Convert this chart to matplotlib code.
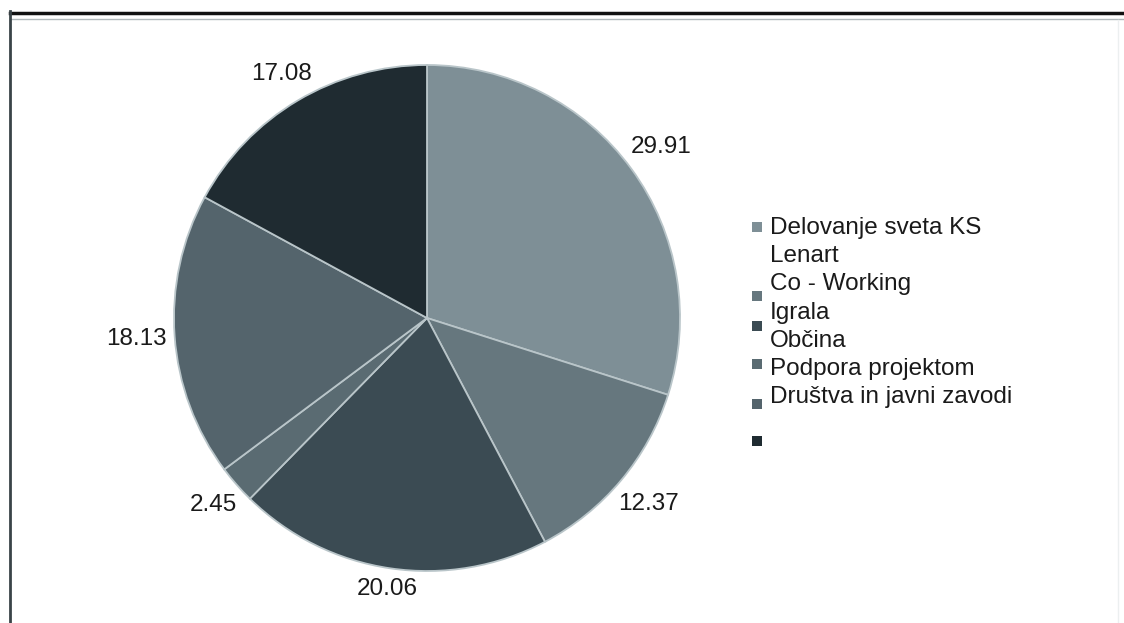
import math
import matplotlib
matplotlib.use('Agg')
import matplotlib.pyplot as plt
from matplotlib.lines import Line2D
from matplotlib.patches import Rectangle

# slice values, clockwise from 12 o'clock
values = [29.91, 12.37, 20.06, 2.45, 18.13, 17.08]
value_labels = ['29.91', '12.37', '20.06', '2.45', '18.13', '17.08']
colors = ['#7e8f96', '#66777e', '#3b4b53', '#5a6b72', '#54646c', '#1f2b31']

# legend text lines (scan has the text and squares out of step)
legend_lines = ['Delovanje sveta KS', 'Lenart', 'Co - Working', 'Igrala',
                'Občina', 'Podpora projektom', 'Društva in javni zavodi']
# square positions in figure pixels from top
legend_marker_y = [227, 296, 326, 364, 404, 441]

plt.rcParams['font.family'] = ['Liberation Sans', 'DejaVu Sans']

W, H = 1124, 623
fig = plt.figure(figsize=(W / 100, H / 100), dpi=100)
fig.patch.set_facecolor('white')

# pie
cx, cy, r = 427, 318, 253
ax = fig.add_axes([(cx - r) / W, (H - cy - r) / H, 2 * r / W, 2 * r / H])
wedges, texts = ax.pie(values, labels=value_labels, colors=colors,
                       startangle=90, counterclock=False,
                       labeldistance=1.1,
                       wedgeprops=dict(edgecolor='#b9c5c9', linewidth=1.3),
                       textprops=dict(fontsize=17.5, color='#1a1a1a'))
ax.set_xlim(-1, 1)
ax.set_ylim(-1, 1)
ax.set_aspect('equal')

# excel style: the label box sits just outside the rim
fig.canvas.draw()
renderer = fig.canvas.get_renderer()
for w, t in zip(wedges, texts):
    t.set_horizontalalignment('center')
    t.set_verticalalignment('center')
    ang = math.radians((w.theta1 + w.theta2) / 2)
    bb = t.get_window_extent(renderer)
    hw = bb.width / 2 / r
    hh = bb.height / 2 / r * 0.8
    d = 1.03 + abs(math.cos(ang)) * hw + abs(math.sin(ang)) * hh
    t.set_position((d * math.cos(ang), d * math.sin(ang)))

# legend squares
for i, y in enumerate(legend_marker_y):
    fig.patches.append(Rectangle((752 / W, (H - y - 5) / H), 10 / W, 10 / H,
                                 transform=fig.transFigure, facecolor=colors[i],
                                 edgecolor='none'))
fig.text(770 / W, (H - 217) / H, '\n'.join(legend_lines), fontsize=17.5,
         linespacing=1.365, color='#1a1a1a', ha='left', va='top')

# frame from the scan
fig.lines.append(Line2D([10 / W, 1], [(H - 12.5) / H] * 2, transform=fig.transFigure,
                        color='#111111', linewidth=2.5))
fig.lines.append(Line2D([11 / W, 1], [(H - 19) / H] * 2, transform=fig.transFigure,
                        color='#b0b8bb', linewidth=1.0))
fig.lines.append(Line2D([10 / W] * 2, [0, (H - 11) / H], transform=fig.transFigure,
                        color='#3a4448', linewidth=2.0))
fig.lines.append(Line2D([1118 / W] * 2, [0, (H - 20) / H], transform=fig.transFigure,
                        color='#eceff0', linewidth=1.0))

fig.savefig('out.png', dpi=100, facecolor='white')
